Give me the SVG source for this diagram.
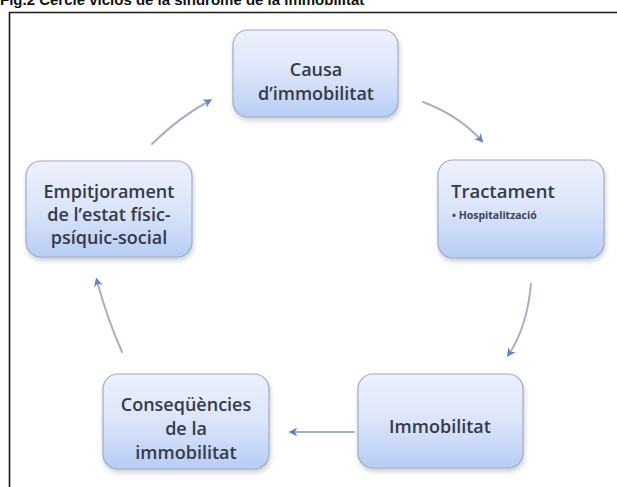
<svg xmlns="http://www.w3.org/2000/svg" width="617" height="487" viewBox="0 0 617 487">
<defs>
<linearGradient id="boxg" x1="0" y1="0" x2="0" y2="1">
<stop offset="0" stop-color="#eef1fc"/>
<stop offset="0.5" stop-color="#dbe5fa"/>
<stop offset="1" stop-color="#b7cdf5"/>
</linearGradient>
<filter id="sh" x="-20%" y="-20%" width="140%" height="150%">
<feDropShadow dx="1" dy="3" stdDeviation="2.5" flood-color="#8a93a8" flood-opacity="0.45"/>
</filter>
<marker id="ah" viewBox="0 0 10 10" refX="6" refY="5" markerWidth="4.5" markerHeight="4.5" orient="auto" markerUnits="strokeWidth">
<path d="M0,0 L10,5 L0,10 L3,5 Z" fill="#5f83c4"/>
</marker>
</defs>
<style>
.box{fill:url(#boxg);stroke:#a3acc2;stroke-width:1.2;filter:url(#sh)}
.t{font-family:"Open Sans","Noto Sans",sans-serif;font-size:18px;font-weight:600;fill:#343a48;text-anchor:middle}
.tl{font-family:"Open Sans","Noto Sans",sans-serif;font-size:18.5px;font-weight:600;fill:#343a48}
.ts{font-family:"Open Sans","Noto Sans",sans-serif;font-size:10.5px;font-weight:bold;fill:#3c4558}
.c{fill:none;stroke:#a8b0c0;stroke-width:2;stroke-linecap:round;marker-end:url(#ah)}
.title{font-family:"Liberation Sans",Arial,sans-serif;font-size:15px;font-weight:bold;fill:#111}
</style>
<rect x="0" y="0" width="617" height="487" fill="#ffffff"/>
<text class="title" x="0" y="4.5">Fig.2 Cercle viciós de la síndrome de la immobilitat</text>
<path d="M9.5,487 L9.5,12.5 L617,12.5" fill="none" stroke="#1a1a1a" stroke-width="1.6"/>

<g id="connectors">
<path class="c" d="M423,102 Q458,115 481,140"/>
<path class="c" d="M531,284 Q527,327 509,354"/>
<path class="c" d="M354,432 L292,432"/>
<path class="c" d="M122,352 Q107,318 97,281"/>
<path class="c" d="M152,144 Q178,118 209,101"/>
</g>

<g id="node-causa">
<rect class="box" x="233" y="30" width="165" height="87" rx="15"/>
<text class="t" x="316" y="76">Causa</text>
<text class="t" x="316" y="100">d’immobilitat</text>
</g>

<g id="node-tractament">
<rect class="box" x="438" y="160" width="166" height="98" rx="15"/>
<text class="tl" x="451" y="198">Tractament</text>
<text class="ts" x="452" y="219">• Hospitalització</text>
</g>

<g id="node-immobilitat">
<rect class="box" x="358" y="374" width="165" height="94" rx="15"/>
<text class="t" x="440" y="433">Immobilitat</text>
</g>

<g id="node-consequencies">
<rect class="box" x="103" y="374" width="166" height="95" rx="15"/>
<text class="t" x="186" y="411">Conseqüències</text>
<text class="t" x="186" y="435">de la</text>
<text class="t" x="186" y="459">immobilitat</text>
</g>

<g id="node-empitjorament">
<rect class="box" x="26" y="161" width="166" height="96" rx="15"/>
<text class="t" x="109" y="198">Empitjorament</text>
<text class="t" x="109" y="221">de l’estat físic-</text>
<text class="t" x="109" y="244">psíquic-social</text>
</g>
</svg>
